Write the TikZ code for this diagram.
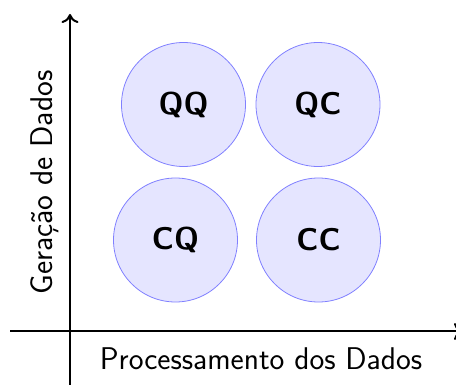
\documentclass[tikz,border=0pt]{standalone}
\usetikzlibrary{arrows.meta}
\begin{document}
\begin{tikzpicture}[x=0.5pt,y=-0.5pt,
  quad/.style={circle,draw=blue!50,fill=blue!10,minimum size=62pt,inner sep=0pt,
    font=\sffamily\bfseries\fontsize{15.7}{18}\selectfont},
  axlab/.style={font=\sffamily\fontsize{15.7}{18}\selectfont,inner sep=0pt,anchor=base},
  axis/.style={line width=1pt,-{To[length=4.5pt,width=8.5pt]}}]
\useasboundingbox (0,0) rectangle (456,385);
\coordinate (xs) at (10,331.5);
\coordinate (xe) at (463,331.5);
\coordinate (yb) at (70,392);
\coordinate (yt) at (70,14);
\draw[axis] (xs) -- (xe);
\draw[axis] (yb) -- (yt);
\node[quad] (QQ) at (183.5,104.5) {QQ};
\node[quad] (QC) at (318,104.5) {QC};
\node[quad] (CQ) at (175.5,240) {CQ};
\node[quad] (CC) at (318.5,240) {CC};
\node[axlab] (xl) at (261,370) {Processamento dos Dados};
\node[axlab,rotate=90] (yl) at (53,182.5) {Geração de Dados};
\end{tikzpicture}
\end{document}
